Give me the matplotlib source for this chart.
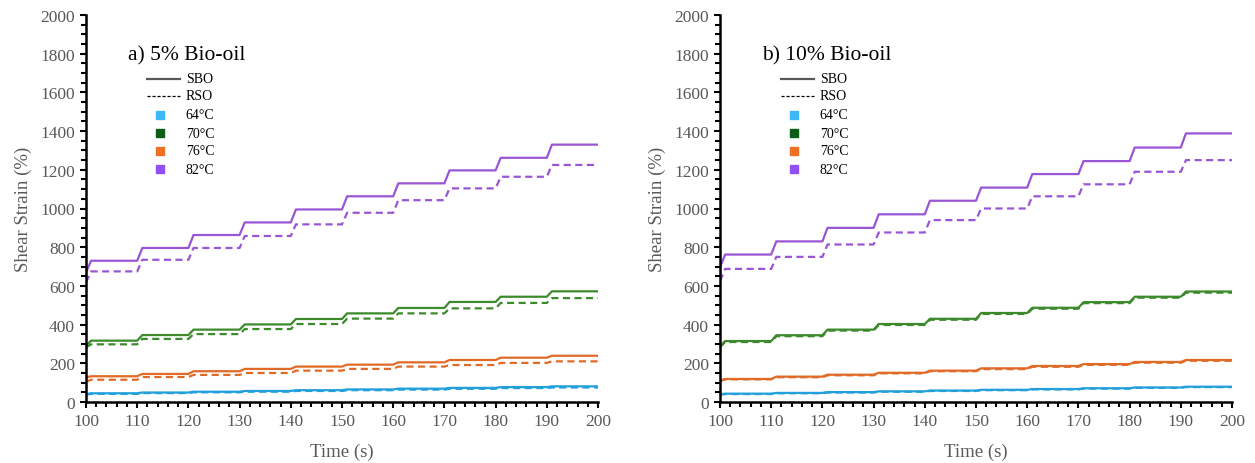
import matplotlib.pyplot as plt
from matplotlib.ticker import MultipleLocator

plt.rcParams['font.family'] = ['Liberation Serif', 'DejaVu Serif']

# cycle start times; each list holds the value at t=100 followed by the peak of each cycle
cycle_start = [100, 110, 120, 130, 140, 150, 160, 170, 180, 190]
t_end = 200

# a) 5% bio-oil
sbo5_64 = [40, 45, 49, 53, 57, 61, 65, 69, 73, 77, 81]
rso5_64 = [38, 42, 46, 50, 53, 57, 61, 64, 68, 72, 75]
sbo5_70 = [291, 317, 346, 374, 401, 429, 458, 486, 517, 544, 572]
rso5_70 = [283, 298, 326, 351, 377, 403, 431, 458, 484, 512, 537]
sbo5_76 = [127, 133, 145, 159, 171, 183, 193, 205, 217, 229, 239]
rso5_76 = [105, 115, 129, 140, 150, 162, 171, 183, 191, 202, 210]
sbo5_82 = [670, 730, 796, 863, 928, 995, 1063, 1130, 1197, 1262, 1330]
rso5_82 = [618, 675, 735, 796, 858, 918, 978, 1043, 1104, 1164, 1225]

# b) 10% bio-oil
sbo10_64 = [40, 43, 47, 51, 55, 59, 63, 67, 71, 75, 79]
rso10_64 = [38, 41, 45, 49, 53, 57, 61, 65, 69, 73, 77]
sbo10_70 = [288, 315, 345, 374, 403, 430, 460, 487, 516, 544, 571]
rso10_70 = [283, 310, 340, 369, 398, 425, 455, 482, 511, 539, 565]
sbo10_76 = [110, 119, 131, 141, 151, 162, 174, 186, 196, 207, 217]
rso10_76 = [108, 117, 128, 138, 148, 159, 170, 182, 192, 203, 213]
sbo10_82 = [696, 762, 830, 900, 970, 1040, 1108, 1178, 1245, 1315, 1388]
rso10_82 = [625, 688, 750, 814, 876, 940, 1000, 1063, 1125, 1190, 1250]

temps = ['64°C', '70°C', '76°C', '82°C']
line_colors = ['#22a0dc', '#3c8a2c', '#e06a26', '#9a55d4']
key_colors = ['#3db8f7', '#0b5d18', '#ee7023', '#9150f7']


def staircase(vals):
    # creep: 1 s rise at the start of each cycle, then plateau until the next cycle
    t, y = [cycle_start[0]], [vals[0]]
    for i, c in enumerate(cycle_start):
        nxt = cycle_start[i + 1] if i + 1 < len(cycle_start) else t_end
        t += [c + 1, nxt]
        y += [vals[i + 1], vals[i + 1]]
    return t, y


panels = [
    ("a) 5% Bio-oil", [sbo5_64, sbo5_70, sbo5_76, sbo5_82], [rso5_64, rso5_70, rso5_76, rso5_82]),
    ("b) 10% Bio-oil", [sbo10_64, sbo10_70, sbo10_76, sbo10_82], [rso10_64, rso10_70, rso10_76, rso10_82]),
]

fig = plt.figure(figsize=(12.55, 4.64), dpi=100)
lefts = [86 / 1255, 720 / 1255]
grey = '#595959'

for (title, sbo, rso), left in zip(panels, lefts):
    ax = fig.add_axes([left, 61 / 464, 512 / 1255, 387 / 464])
    for k in range(4):
        t, y = staircase(sbo[k])
        ax.plot(t, y, color=line_colors[k], lw=1.6)
        t, y = staircase(rso[k])
        ax.plot(t, y, color=line_colors[k], lw=1.6, ls=(0, (3.2, 2)))

    ax.set_xlim(100, 200)
    ax.set_ylim(0, 2000)
    ax.xaxis.set_major_locator(MultipleLocator(10))
    ax.xaxis.set_minor_locator(MultipleLocator(2))
    ax.yaxis.set_major_locator(MultipleLocator(200))
    ax.yaxis.set_minor_locator(MultipleLocator(50))
    for s in ['top', 'right']:
        ax.spines[s].set_visible(False)
    for s in ['left', 'bottom']:
        ax.spines[s].set_linewidth(1.8)
    ax.tick_params(which='both', direction='out', width=1.5, colors='black',
                   labelcolor=grey, labelsize=12.5)
    ax.tick_params(which='major', length=4, pad=4)
    ax.tick_params(which='minor', length=3.5)
    ax.set_xlabel('Time (s)', color=grey, fontsize=13.5, labelpad=10)
    ax.set_ylabel('Shear Strain (%)', color=grey, fontsize=13.5, labelpad=6)

    # key
    ax.text(0.082, 0.897, title, transform=ax.transAxes, fontsize=15.5, va='center')
    ys = [0.835, 0.791, 0.742, 0.695, 0.649, 0.602]
    ax.plot([0.119, 0.184], [ys[0]] * 2, transform=ax.transAxes, color=grey, lw=1.6)
    ax.plot([0.119, 0.184], [ys[1]] * 2, transform=ax.transAxes, color='black', lw=0.9,
            ls=(0, (2.5, 1.5)))
    ax.text(0.195, ys[0], 'SBO', transform=ax.transAxes, fontsize=10, va='center')
    ax.text(0.195, ys[1], 'RSO', transform=ax.transAxes, fontsize=10, va='center')
    for k in range(4):
        ax.plot([0.145], [ys[k + 2]], 's', ms=6, color=key_colors[k], transform=ax.transAxes)
        ax.text(0.195, ys[k + 2], temps[k], transform=ax.transAxes, fontsize=10, va='center')

fig.savefig('out.png', dpi=100)
